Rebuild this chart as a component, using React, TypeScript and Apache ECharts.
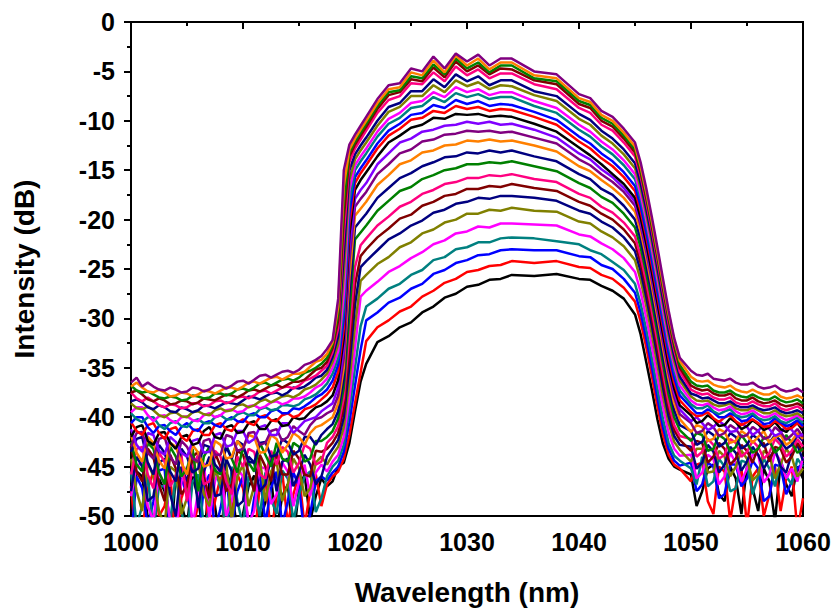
import React, { useEffect, useRef } from "react";
import * as echarts from "echarts";

// Wavelength grid (nm) shared by all spectra
const wavelengths = [
  1000, 1000.5, 1001, 1001.5, 1002, 1002.5, 1003, 1003.5, 1004, 1004.5, 1005, 1005.5, 1006, 1006.5, 1007, 1007.5, 1008, 1008.5,
  1009, 1009.5, 1010, 1010.5, 1011, 1011.5, 1012, 1012.5, 1013, 1013.5, 1014, 1014.5, 1015, 1015.5, 1016, 1016.5, 1017, 1017.5,
  1018, 1018.5, 1019, 1019.5, 1020, 1020.5, 1021,
  1022, 1023, 1024, 1025, 1026, 1027, 1028, 1029, 1030, 1031, 1032, 1033, 1034, 1036, 1038, 1040, 1041, 1042, 1043, 1044,
  1045, 1045.5, 1046, 1046.5, 1047, 1047.5, 1048, 1048.5, 1049,
  1050, 1050.5, 1051, 1051.5, 1052, 1052.5, 1053, 1053.5, 1054, 1054.5, 1055, 1055.5, 1056, 1056.5, 1057, 1057.5, 1058, 1058.5,
  1059, 1059.5, 1060,
];

// Spectra (dB), from the lowest to the highest
const curve01 = [-49.5, -45.5, -46.0, -50.2, -52.0, -46.2, -47.5, -53.5, -45.8, -48.8, -51.0, -46.0, -48.2, -52.5, -46.5, -49.0, -53.0, -45.6,
  -47.0, -51.8, -49.8, -47.0, -45.9, -50.5, -48.6, -46.0, -51.5, -48.0, -46.8, -52.5, -47.2, -45.8, -50.5, -48.0, -46.2, -47.0,
  -46.5, -45.0, -44.6, -42.6, -39.4, -36.4, -34.6,
  -32.4, -31.8, -30.9, -30.4, -29.4, -28.8, -27.9, -27.5, -26.8, -26.6, -26.1, -26.0, -25.6, -25.7, -25.5, -26.0, -26.1, -26.7, -27.2, -28.0,
  -29.6, -31.6, -34.4, -37.2, -40.2, -42.7, -44.2, -45.0, -45.3,
  -45.8, -49.0, -47.5, -45.2, -44.8, -47.8, -48.5, -45.0, -46.2, -49.8, -45.0, -47.2, -49.5, -45.2, -46.5, -50.5, -44.6, -46.8, -48.0, -45.0, -46.2];
const curve02 = [-47.0, -53.0, -51.5, -47.2, -45.5, -50.0, -49.0, -45.8, -53.0, -48.2, -46.5, -51.5, -48.8, -45.6, -52.0, -48.5, -46.0, -52.8,
  -49.5, -45.8, -47.2, -50.5, -52.5, -47.0, -46.2, -51.8, -48.0, -45.5, -50.8, -47.8, -45.8, -51.0, -47.5, -45.8, -49.0, -46.8,
  -46.0, -45.5, -44.2, -41.8, -38.6, -35.5, -32.3,
  -30.9, -30.2, -29.3, -28.8, -27.8, -27.2, -26.4, -26.0, -25.3, -25.1, -24.7, -24.6, -24.2, -24.4, -24.2, -24.8, -24.9, -25.6, -26.0, -26.9,
  -28.3, -30.3, -32.9, -35.8, -38.9, -41.8, -43.8, -44.8, -45.2,
  -46.5, -44.8, -44.6, -48.5, -49.8, -45.0, -45.5, -50.5, -47.0, -45.2, -51.0, -46.0, -45.2, -50.0, -47.8, -45.0, -49.5, -46.2, -45.0, -51.5, -48.2];
const curve03 = [-52.5, -46.0, -47.2, -51.0, -48.5, -45.4, -45.2, -52.0, -50.5, -46.2, -47.8, -50.5, -53.0, -47.0, -45.8, -51.5, -49.2, -46.0,
  -51.0, -47.5, -46.0, -52.0, -48.2, -45.6, -50.8, -47.2, -45.5, -51.0, -48.5, -45.6, -47.0, -52.0, -49.8, -46.5, -46.0, -46.4,
  -45.6, -45.0, -43.5, -40.5, -36.8, -33.2, -30.2,
  -29.4, -28.4, -27.9, -27.0, -26.5, -25.5, -25.1, -24.4, -24.1, -23.6, -23.5, -23.1, -23.0, -23.1, -23.1, -23.7, -23.8, -24.6, -25.0, -26.0,
  -27.4, -29.4, -32.0, -34.9, -38.0, -41.0, -43.2, -44.4, -44.9,
  -44.6, -47.5, -46.8, -44.6, -45.0, -48.2, -47.8, -44.8, -44.8, -47.0, -46.2, -44.4, -45.2, -48.5, -48.0, -44.8, -45.0, -47.8, -46.5, -45.2, -44.6];
const curve04 = [-45.5, -51.0, -49.0, -46.0, -51.5, -47.0, -47.0, -50.5, -46.0, -49.5, -52.0, -46.5, -45.8, -51.0, -49.5, -45.2, -47.2, -52.0,
  -45.0, -48.5, -51.0, -46.0, -47.0, -50.0, -45.6, -48.2, -49.8, -45.4, -46.2, -50.5, -47.8, -46.0, -45.5, -49.6, -48.2, -46.0,
  -45.0, -44.4, -42.8, -39.2, -35.0, -30.8, -28.8,
  -28.0, -27.0, -26.5, -25.6, -25.1, -24.1, -23.8, -23.0, -22.8, -22.3, -22.3, -21.9, -21.8, -21.9, -22.2, -22.5, -23.1, -23.5, -24.3, -25.1,
  -26.5, -28.5, -31.1, -34.0, -37.1, -40.2, -42.6, -43.9, -44.4,
  -45.2, -46.8, -44.0, -47.0, -46.5, -44.2, -45.0, -47.5, -47.2, -44.4, -44.6, -47.8, -46.0, -44.2, -45.2, -47.0, -44.4, -46.0, -46.8, -44.2, -45.0];
const curve05 = [-48.0, -45.0, -44.5, -49.0, -50.5, -45.6, -46.8, -50.5, -52.0, -46.5, -45.0, -51.0, -47.5, -44.6, -50.2, -46.5, -44.8, -50.0,
  -48.5, -45.2, -46.0, -50.8, -49.5, -45.0, -45.2, -48.8, -47.8, -44.6, -45.5, -49.0, -46.5, -44.8, -48.0, -45.6, -44.8, -45.5,
  -44.5, -43.8, -42.0, -38.0, -33.0, -27.8, -27.2,
  -26.3, -25.3, -24.7, -23.9, -23.3, -22.5, -22.1, -21.4, -21.2, -20.7, -20.8, -20.4, -20.4, -20.5, -20.6, -21.5, -21.7, -22.4, -23.0, -23.9,
  -25.3, -27.3, -29.9, -32.8, -35.9, -39.0, -41.6, -43.2, -43.9,
  -43.8, -46.2, -45.6, -43.8, -44.2, -46.8, -46.0, -43.6, -44.6, -46.5, -45.2, -43.8, -43.8, -46.6, -45.8, -43.6, -44.4, -46.2, -45.2, -46.5, -44.0];
const curve06 = [-44.2, -47.5, -49.5, -44.6, -46.0, -49.5, -51.0, -45.0, -45.5, -49.8, -48.2, -44.4, -44.6, -47.8, -49.0, -45.2, -46.8, -44.6,
  -50.5, -46.0, -44.8, -49.0, -47.0, -44.2, -48.5, -45.5, -44.5, -48.5, -46.8, -44.2, -45.2, -48.0, -47.2, -44.6, -44.0, -44.8,
  -43.8, -43.0, -41.0, -36.4, -30.8, -26.2, -25.6,
  -24.5, -23.8, -22.8, -22.3, -21.4, -21.0, -20.3, -20.0, -19.4, -19.4, -19.0, -19.1, -18.8, -19.1, -19.2, -20.2, -20.4, -21.2, -21.8, -22.7,
  -24.1, -26.1, -28.7, -31.6, -34.7, -37.9, -40.6, -42.5, -43.3,
  -44.5, -43.2, -43.2, -45.6, -45.5, -43.4, -44.0, -46.0, -45.0, -43.4, -44.2, -46.4, -45.8, -43.4, -43.8, -46.2, -44.8, -43.2, -44.0, -46.0, -45.2];
const curve07 = [-47.5, -44.0, -45.0, -48.5, -48.0, -44.6, -44.2, -47.8, -50.0, -45.0, -46.5, -43.8, -49.2, -45.5, -44.0, -48.0, -47.8, -44.2,
  -45.5, -49.0, -48.5, -44.0, -44.6, -47.5, -46.8, -44.0, -47.5, -44.5, -44.2, -47.0, -45.6, -43.8, -44.8, -46.8, -46.0, -44.0,
  -43.2, -42.3, -40.0, -34.8, -28.6, -24.8, -24.2,
  -23.1, -22.0, -21.4, -20.6, -20.1, -19.3, -19.0, -18.4, -18.2, -17.8, -17.9, -17.6, -17.6, -17.8, -18.1, -19.1, -19.4, -20.2, -20.8, -21.8,
  -23.2, -25.2, -27.8, -30.7, -33.8, -37.0, -39.9, -41.9, -42.8,
  -43.0, -45.2, -44.6, -42.8, -43.5, -45.6, -44.8, -43.0, -43.6, -45.4, -44.5, -43.0, -43.8, -45.2, -44.2, -43.2, -45.0, -45.6, -43.6, -42.8, -44.4];
const curve08 = [-43.0, -45.5, -46.5, -43.2, -44.0, -46.8, -48.5, -43.8, -45.2, -47.8, -47.0, -44.0, -43.5, -46.0, -48.2, -43.6, -45.0, -47.5,
  -46.8, -43.4, -43.8, -45.6, -47.5, -43.8, -45.0, -46.5, -43.6, -45.8, -45.8, -43.4, -44.2, -45.8, -46.0, -43.4, -43.5, -43.2,
  -42.6, -41.6, -39.0, -33.2, -26.6, -23.7, -23.0,
  -21.8, -20.9, -19.9, -19.5, -18.6, -18.2, -17.6, -17.4, -16.9, -16.9, -16.6, -16.7, -16.4, -16.8, -17.1, -18.2, -18.6, -19.4, -20.0, -21.0,
  -22.4, -24.4, -27.0, -29.9, -33.0, -36.2, -39.1, -41.3, -42.3,
  -43.4, -42.4, -42.6, -44.6, -44.0, -42.6, -43.2, -44.8, -44.2, -42.8, -43.4, -44.6, -43.0, -42.6, -44.5, -43.0, -43.2, -44.6, -44.0, -42.6, -43.5];
const curve09 = [-45.8, -43.2, -43.0, -45.8, -47.2, -43.6, -44.5, -47.0, -46.0, -43.8, -48.5, -45.0, -43.8, -46.8, -46.5, -43.4, -44.0, -46.5,
  -47.8, -44.0, -45.0, -43.2, -43.5, -45.8, -46.2, -43.4, -44.8, -43.0, -43.5, -45.6, -44.6, -42.8, -43.2, -44.8, -44.5, -42.6,
  -42.0, -40.9, -38.0, -31.5, -24.8, -22.6, -21.9,
  -20.6, -19.7, -18.7, -18.2, -17.4, -17.0, -16.4, -16.2, -15.8, -15.8, -15.5, -15.6, -15.4, -15.9, -16.2, -17.4, -17.8, -18.7, -19.3, -20.3,
  -21.7, -23.7, -26.3, -29.2, -32.3, -35.5, -38.5, -40.8, -41.9,
  -42.2, -44.0, -43.5, -42.2, -42.8, -44.2, -43.8, -42.2, -42.6, -44.0, -43.5, -42.4, -43.0, -44.2, -43.6, -42.2, -42.8, -44.0, -43.4, -42.2, -43.0];
const curve10 = [-42.5, -44.8, -45.5, -42.6, -43.2, -45.6, -46.8, -43.0, -44.0, -46.0, -45.2, -43.2, -47.5, -44.0, -43.0, -45.4, -45.8, -42.8,
  -44.2, -45.6, -43.0, -44.6, -45.5, -42.6, -43.8, -45.0, -42.6, -44.2, -44.5, -42.6, -43.0, -44.5, -44.2, -42.4, -42.4, -42.0,
  -41.4, -40.1, -37.0, -29.5, -22.0, -21.3, -20.6,
  -19.1, -18.1, -17.1, -16.7, -15.9, -15.5, -15.0, -14.8, -14.4, -14.4, -14.2, -14.3, -14.1, -14.6, -15.1, -16.3, -16.8, -17.7, -18.3, -19.4,
  -20.8, -22.8, -25.4, -28.3, -31.4, -34.6, -37.7, -40.0, -41.3,
  -42.4, -41.6, -41.8, -43.4, -43.2, -41.8, -42.2, -43.5, -43.0, -41.8, -42.6, -43.6, -43.2, -42.0, -42.4, -43.6, -43.0, -41.8, -42.6, -43.6, -43.2];
const curve11 = [-43.5, -42.2, -42.0, -44.6, -45.8, -42.8, -43.6, -45.5, -46.5, -43.2, -44.0, -45.6, -45.2, -42.8, -43.0, -44.8, -45.5, -43.0,
  -44.2, -42.4, -42.8, -44.5, -44.6, -42.6, -42.5, -44.0, -43.8, -42.2, -42.6, -43.8, -43.4, -42.0, -42.0, -42.8, -41.8, -41.2,
  -40.7, -39.4, -36.0, -27.5, -20.8, -20.1, -19.4,
  -17.8, -16.8, -15.8, -15.3, -14.6, -14.2, -13.7, -13.6, -13.2, -13.3, -13.0, -13.2, -13.0, -13.6, -14.1, -15.4, -15.9, -16.9, -17.5, -18.6,
  -20.0, -22.0, -24.6, -27.5, -30.6, -33.8, -36.9, -39.3, -40.8,
  -41.4, -42.8, -42.5, -41.4, -41.8, -43.0, -42.6, -41.6, -42.0, -43.2, -42.8, -41.8, -42.2, -43.0, -42.6, -41.8, -42.4, -43.2, -42.8, -41.8, -42.4];
const curve12 = [-41.8, -43.6, -44.5, -42.0, -42.6, -44.4, -45.2, -42.6, -43.0, -44.6, -45.8, -42.8, -43.6, -45.0, -44.8, -42.4, -42.8, -44.2,
  -44.0, -42.4, -43.2, -41.8, -42.0, -43.6, -43.5, -41.8, -42.2, -43.6, -42.8, -41.6, -42.0, -42.8, -41.6, -41.0, -40.8, -40.4,
  -40.0, -38.6, -35.0, -25.8, -19.6, -18.9, -18.2,
  -16.5, -15.5, -14.4, -14.0, -13.2, -13.0, -12.5, -12.4, -12.0, -12.1, -11.9, -12.1, -12.0, -12.5, -13.1, -14.6, -15.1, -16.0, -16.8, -17.8,
  -19.2, -21.2, -23.8, -26.7, -29.8, -33.0, -36.1, -38.6, -40.2,
  -41.5, -40.8, -41.0, -42.4, -42.2, -41.2, -41.5, -42.6, -42.4, -41.4, -41.8, -42.6, -42.0, -41.4, -42.6, -42.0, -41.8, -42.8, -42.4, -41.6, -42.2];
const curve13 = [-43.0, -41.6, -41.5, -43.6, -44.2, -42.2, -42.0, -44.0, -44.8, -42.4, -43.0, -44.2, -44.5, -42.4, -42.2, -43.8, -43.8, -41.8,
  -42.0, -43.4, -43.2, -41.6, -41.5, -42.8, -42.6, -41.4, -41.2, -42.4, -42.0, -40.9, -41.4, -41.8, -40.8, -40.2, -40.0, -39.6,
  -39.3, -37.8, -34.0, -24.2, -18.7, -17.9, -17.2,
  -15.4, -14.4, -13.3, -12.9, -12.1, -11.9, -11.4, -11.3, -11.0, -11.1, -11.0, -11.2, -11.1, -11.7, -12.3, -13.9, -14.5, -15.4, -16.2, -17.2,
  -18.6, -20.6, -23.2, -26.1, -29.2, -32.4, -35.5, -38.0, -39.7,
  -40.6, -41.6, -41.4, -40.6, -41.0, -41.9, -41.6, -40.8, -41.2, -42.0, -41.8, -41.0, -41.4, -42.2, -42.0, -41.0, -41.5, -42.3, -41.8, -41.2, -42.0];
const curve14 = [-41.2, -42.8, -43.5, -41.6, -41.8, -43.4, -43.8, -42.0, -42.5, -43.6, -44.0, -42.4, -42.2, -43.6, -43.5, -41.8, -41.6, -43.0,
  -42.8, -41.4, -41.4, -42.6, -42.2, -41.0, -40.8, -41.8, -41.8, -40.6, -40.6, -41.6, -41.0, -40.4, -40.2, -40.0, -39.4, -39.0,
  -38.6, -37.0, -33.0, -22.8, -17.9, -17.0, -16.3,
  -14.4, -13.3, -12.2, -11.8, -11.1, -10.9, -10.5, -10.4, -10.1, -10.3, -10.1, -10.4, -10.3, -10.9, -11.7, -13.3, -13.9, -14.9, -15.7, -16.8,
  -18.2, -20.2, -22.8, -25.7, -28.8, -32.0, -35.1, -37.5, -39.2,
  -40.4, -40.0, -40.6, -41.3, -41.0, -40.4, -40.8, -41.5, -41.4, -40.6, -41.0, -41.8, -41.4, -40.7, -41.2, -41.9, -41.6, -40.8, -41.3, -42.0, -41.7];
const curve15 = [-42.0, -41.0, -40.8, -42.4, -42.8, -41.6, -41.5, -42.6, -43.2, -42.0, -41.8, -42.8, -42.6, -41.4, -41.0, -42.0, -42.2, -41.0,
  -40.8, -41.6, -41.5, -40.6, -40.4, -41.2, -41.2, -40.4, -40.2, -40.9, -40.8, -40.0, -40.2, -40.1, -39.5, -39.0, -38.8, -38.4,
  -37.8, -36.2, -32.0, -21.5, -17.0, -16.0, -15.2,
  -13.6, -12.2, -11.5, -10.7, -10.4, -9.7, -9.8, -9.3, -9.4, -9.3, -9.6, -9.5, -9.6, -10.3, -11.1, -12.7, -13.5, -14.4, -15.4, -16.4,
  -17.8, -19.8, -22.4, -25.3, -28.4, -31.6, -34.7, -37.1, -38.8,
  -39.8, -40.6, -40.4, -39.8, -40.2, -40.9, -40.8, -40.1, -40.5, -41.2, -40.9, -40.3, -40.7, -41.3, -41.0, -40.5, -41.2, -41.5, -40.9, -40.6, -41.4];
const curve16 = [-40.5, -41.4, -41.8, -40.8, -40.6, -41.6, -42.2, -41.2, -41.0, -42.0, -42.4, -41.4, -41.2, -41.8, -41.8, -40.8, -40.6, -41.2,
  -41.4, -40.6, -40.2, -40.6, -40.8, -40.0, -39.8, -40.3, -40.4, -39.8, -39.6, -40.0, -39.8, -39.2, -39.0, -38.7, -38.2, -37.7,
  -37.0, -35.4, -31.0, -20.4, -16.3, -15.3, -14.5,
  -12.8, -11.5, -10.8, -9.9, -9.7, -9.0, -9.2, -8.5, -8.8, -8.6, -9.0, -8.8, -8.9, -9.6, -10.4, -12.1, -12.8, -13.8, -14.6, -15.7,
  -17.1, -19.1, -21.7, -24.6, -27.7, -30.9, -34.0, -36.5, -38.3,
  -39.5, -39.9, -39.8, -39.5, -40.1, -40.5, -40.0, -39.8, -40.4, -40.8, -40.5, -40.2, -40.6, -41.0, -40.9, -40.4, -40.7, -41.2, -41.1, -40.6, -41.0];
const curve17 = [-40.6, -40.0, -40.0, -41.0, -41.6, -40.9, -40.8, -41.4, -41.8, -41.0, -40.6, -41.2, -41.4, -40.6, -40.4, -40.8, -41.0, -40.3,
  -40.0, -40.4, -40.5, -39.8, -39.6, -40.0, -40.0, -39.4, -39.2, -39.6, -39.6, -39.1, -39.2, -38.9, -38.5, -38.0, -37.7, -37.2,
  -36.3, -34.7, -30.0, -19.4, -15.7, -14.8, -14.0,
  -12.3, -11.0, -10.3, -9.4, -9.2, -8.4, -8.7, -7.9, -8.3, -8.0, -8.5, -8.3, -8.4, -9.1, -9.9, -11.6, -12.3, -13.3, -14.1, -15.2,
  -16.6, -18.6, -21.2, -24.1, -27.2, -30.4, -33.5, -36.0, -37.8,
  -39.0, -39.6, -39.6, -39.2, -39.5, -40.0, -40.0, -39.6, -39.9, -40.4, -40.3, -39.8, -40.2, -40.7, -40.6, -40.1, -40.5, -40.9, -40.7, -40.3, -40.9];
const curve18 = [-39.6, -40.2, -40.5, -40.0, -40.0, -40.8, -41.2, -40.6, -40.4, -40.9, -41.0, -40.4, -40.2, -40.6, -40.6, -40.0, -39.8, -40.2,
  -40.2, -39.7, -39.5, -39.8, -39.8, -39.2, -39.0, -39.3, -39.2, -38.8, -38.8, -38.9, -38.7, -38.2, -38.0, -37.7, -37.2, -36.6,
  -35.6, -34.0, -28.8, -18.2, -15.0, -14.1, -13.3,
  -11.6, -10.3, -9.7, -8.7, -8.5, -7.6, -8.1, -7.2, -7.6, -7.3, -7.8, -7.6, -7.6, -8.5, -9.2, -10.9, -11.6, -12.6, -13.4, -14.5,
  -15.9, -17.9, -20.5, -23.4, -26.5, -29.7, -32.8, -35.3, -37.3,
  -38.7, -39.1, -39.1, -38.8, -39.4, -39.7, -39.4, -39.2, -39.8, -40.0, -39.9, -39.6, -40.1, -40.3, -40.2, -39.9, -40.4, -40.6, -40.3, -40.0, -40.6];
const curve19 = [-39.5, -39.0, -39.0, -39.8, -40.4, -39.9, -39.8, -40.3, -40.6, -40.0, -39.9, -40.3, -40.4, -39.8, -39.6, -40.0, -39.8, -39.3,
  -39.2, -39.5, -39.4, -38.9, -38.8, -39.1, -38.9, -38.5, -38.4, -38.7, -38.5, -38.1, -38.1, -37.9, -37.5, -37.0, -36.7, -36.1,
  -35.0, -33.3, -27.5, -17.0, -14.5, -13.6, -12.8,
  -11.1, -9.8, -9.2, -8.2, -8.0, -7.1, -7.6, -6.6, -7.1, -6.8, -7.4, -7.1, -7.1, -8.0, -8.7, -10.4, -11.1, -12.1, -12.9, -14.0,
  -15.4, -17.4, -20.0, -22.9, -26.0, -29.2, -32.3, -34.8, -36.8,
  -38.3, -38.7, -38.8, -38.6, -39.0, -39.3, -39.2, -38.9, -39.4, -39.7, -39.6, -39.3, -39.7, -40.0, -39.9, -39.6, -40.0, -40.3, -40.1, -39.8, -40.3];
const curve20 = [-38.6, -39.1, -39.2, -38.9, -39.3, -39.8, -40.0, -39.6, -39.5, -39.9, -40.0, -39.5, -39.4, -39.7, -39.8, -39.3, -39.1, -39.4,
  -39.3, -38.8, -38.7, -39.0, -38.8, -38.4, -38.2, -38.5, -38.2, -37.9, -37.8, -38.0, -37.7, -37.2, -37.0, -36.7, -36.2, -35.6,
  -34.4, -32.6, -25.5, -16.0, -13.9, -13.0, -12.2,
  -10.5, -9.1, -8.6, -7.5, -7.5, -6.4, -7.1, -5.9, -6.5, -6.1, -6.8, -6.4, -6.5, -7.4, -8.0, -9.8, -10.4, -11.5, -12.3, -13.4,
  -14.8, -16.8, -19.4, -22.3, -25.4, -28.6, -31.7, -34.3, -36.3,
  -37.9, -38.3, -38.4, -38.3, -38.7, -38.9, -38.8, -38.6, -39.1, -39.3, -39.3, -39.0, -39.3, -39.6, -39.6, -39.3, -39.7, -39.9, -39.8, -39.6, -40.0];
const curve21 = [-38.4, -38.2, -38.5, -39.0, -39.2, -38.8, -39.0, -39.4, -39.5, -39.0, -39.2, -39.5, -39.3, -38.8, -38.9, -39.1, -38.8, -38.5,
  -38.6, -38.7, -38.3, -37.9, -38.0, -38.2, -37.9, -37.6, -37.5, -37.8, -37.5, -37.0, -37.1, -36.9, -36.5, -36.0, -35.8, -35.2,
  -33.9, -31.8, -23.5, -15.0, -13.4, -12.5, -11.7,
  -10.0, -8.6, -8.2, -7.0, -7.0, -5.8, -6.6, -5.3, -6.0, -5.5, -6.4, -5.9, -5.9, -7.0, -7.5, -9.3, -9.9, -11.0, -11.8, -12.9,
  -14.3, -16.3, -18.9, -21.8, -24.9, -28.1, -31.2, -33.8, -35.9,
  -37.6, -37.8, -38.1, -38.0, -38.3, -38.6, -38.6, -38.4, -38.8, -39.0, -39.0, -38.8, -39.1, -39.3, -39.2, -39.0, -39.4, -39.6, -39.5, -39.3, -39.6];
const curve22 = [-37.5, -38.1, -38.4, -38.0, -38.4, -38.8, -39.0, -38.7, -38.8, -39.1, -39.0, -38.6, -38.6, -38.9, -38.8, -38.4, -38.3, -38.6,
  -38.4, -38.0, -37.9, -38.1, -37.8, -37.4, -37.3, -37.6, -37.3, -37.0, -36.9, -37.1, -36.8, -36.3, -36.1, -35.8, -35.3, -34.8,
  -33.4, -31.0, -21.5, -14.2, -12.8, -11.9, -11.0,
  -9.2, -7.9, -7.5, -6.2, -6.3, -5.1, -6.0, -4.5, -5.4, -4.8, -5.7, -5.2, -5.2, -6.3, -6.8, -8.7, -9.2, -10.4, -11.0, -12.2,
  -13.6, -15.6, -18.2, -21.1, -24.2, -27.4, -30.5, -33.2, -35.4,
  -37.2, -37.5, -37.7, -37.6, -38.0, -38.2, -38.2, -38.0, -38.5, -38.7, -38.7, -38.4, -38.7, -38.9, -38.9, -38.6, -39.1, -39.3, -39.1, -38.9, -39.3];
const curve23 = [-37.5, -37.3, -37.7, -38.2, -38.4, -38.1, -38.3, -38.7, -38.6, -38.3, -38.4, -38.7, -38.5, -38.1, -38.2, -38.3, -38.0, -37.7,
  -37.8, -38.0, -37.7, -37.3, -37.2, -37.4, -37.1, -36.8, -36.7, -37.0, -36.7, -36.4, -36.4, -36.2, -35.7, -35.2, -35.0, -34.4,
  -33.0, -30.2, -19.8, -13.6, -12.4, -11.5, -10.6,
  -8.8, -7.4, -7.1, -5.8, -6.0, -4.6, -5.6, -4.0, -5.0, -4.4, -5.3, -4.7, -4.8, -5.9, -6.3, -8.3, -8.7, -10.0, -10.6, -11.8,
  -13.2, -15.2, -17.8, -20.7, -23.8, -27.0, -30.1, -32.8, -35.0,
  -36.8, -37.1, -37.3, -37.2, -37.6, -37.8, -37.8, -37.6, -38.1, -38.3, -38.3, -38.0, -38.4, -38.6, -38.5, -38.3, -38.7, -38.9, -38.8, -38.6, -38.9];
const curve24 = [-36.8, -37.3, -37.5, -37.4, -37.7, -38.0, -38.1, -37.9, -38.0, -38.3, -38.2, -37.8, -37.9, -38.1, -38.0, -37.6, -37.6, -37.8,
  -37.6, -37.2, -37.1, -37.3, -37.0, -36.6, -36.5, -36.8, -36.5, -36.2, -36.1, -36.3, -36.0, -35.5, -35.3, -35.0, -34.6, -34.0,
  -32.7, -29.5, -18.2, -13.2, -12.1, -11.2, -10.3,
  -8.5, -7.1, -6.9, -5.5, -5.7, -4.3, -5.3, -3.7, -4.7, -4.1, -5.1, -4.4, -4.4, -5.7, -6.0, -8.0, -8.4, -9.7, -10.3, -11.5,
  -12.9, -14.9, -17.5, -20.4, -23.5, -26.7, -29.8, -32.5, -34.7,
  -36.4, -36.8, -36.9, -36.8, -37.3, -37.5, -37.5, -37.3, -37.7, -37.9, -38.0, -37.7, -38.0, -38.2, -38.2, -37.9, -38.3, -38.5, -38.4, -38.2, -38.6];
const curve25 = [-36.9, -36.5, -37.0, -37.4, -37.5, -37.2, -37.5, -37.9, -37.8, -37.5, -37.6, -37.9, -37.7, -37.3, -37.4, -37.6, -37.3, -37.0,
  -37.0, -37.2, -36.9, -36.5, -36.4, -36.6, -36.3, -36.0, -35.9, -36.2, -35.9, -35.6, -35.6, -35.4, -34.9, -34.4, -34.2, -33.6,
  -32.4, -28.8, -16.6, -12.9, -11.8, -10.9, -10.0,
  -8.2, -6.8, -6.6, -5.1, -5.4, -3.9, -5.1, -3.4, -4.4, -3.7, -4.8, -4.1, -4.1, -5.4, -5.7, -7.7, -8.1, -9.4, -10.0, -11.2,
  -12.6, -14.6, -17.2, -20.1, -23.2, -26.4, -29.5, -32.2, -34.3,
  -35.9, -36.3, -36.4, -36.3, -36.7, -36.9, -37.0, -36.8, -37.2, -37.4, -37.5, -37.2, -37.5, -37.7, -37.7, -37.4, -37.9, -38.1, -38.0, -37.8, -38.1];
const curve26 = [-36.5, -36.0, -36.9, -36.5, -36.9, -37.2, -37.3, -37.0, -37.2, -37.5, -37.4, -37.0, -37.1, -37.4, -37.2, -36.8, -36.8, -37.1,
  -36.8, -36.4, -36.3, -36.6, -36.2, -35.8, -35.7, -36.0, -35.7, -35.4, -35.3, -35.5, -35.2, -34.7, -34.5, -34.2, -33.8, -33.1,
  -32.2, -28.0, -15.0, -12.4, -11.4, -10.5, -9.6,
  -7.8, -6.4, -6.2, -4.7, -5.0, -3.5, -4.7, -3.2, -4.0, -3.3, -4.4, -3.7, -3.7, -5.0, -5.3, -7.3, -7.7, -9.0, -9.6, -10.8,
  -12.2, -14.2, -16.8, -19.7, -22.8, -26.0, -29.2, -32.0, -34.0,
  -35.3, -35.7, -35.8, -35.6, -36.1, -36.2, -36.3, -36.1, -36.5, -36.7, -36.7, -36.5, -36.9, -37.1, -37.0, -36.8, -37.2, -37.4, -37.3, -37.1, -37.5];

const curves = [
  curve01, curve02, curve03, curve04, curve05, curve06, curve07, curve08, curve09, curve10, curve11, curve12, curve13,
  curve14, curve15, curve16, curve17, curve18, curve19, curve20, curve21, curve22, curve23, curve24, curve25, curve26,
];

const curveColors = [
  "#000000", "#ff0000", "#0000ff", "#008080", "#ff00ff", "#808000", "#000080", "#800000", "#ff0080", "#008000",
  "#000080", "#ff8000", "#800080", "#8000ff", "#000000", "#ff0000", "#0000ff", "#008080", "#ff00ff", "#808000",
  "#000080", "#ff0080", "#800000", "#008000", "#ff8000", "#800080",
];

const xTitle = "Wavelength (nm)";
const yTitle = "Intensity (dB)";
const FONT = "'Liberation Sans', Arial, Helvetica, sans-serif";

export default function App() {
  const ref = useRef<HTMLDivElement>(null);

  useEffect(() => {
    if (!ref.current) return;
    const chart = echarts.init(ref.current, undefined, { renderer: "svg" });
    const axisLine = { show: true, lineStyle: { color: "#000", width: 2 } };
    const tick = { show: true, length: 7, lineStyle: { color: "#000", width: 2 } };
    const minor = { show: true, splitNumber: 2, length: 4, lineStyle: { color: "#000", width: 2 } };
    const labelStyle = { color: "#000", fontSize: 25, fontWeight: "bold", fontFamily: FONT };
    const titleStyle = { color: "#000", fontSize: 28, fontWeight: "bold", fontFamily: FONT };
    const option = {
      animation: false,
      backgroundColor: "#fff",
      textStyle: { fontFamily: FONT },
      grid: {
        left: 131, right: 34, top: 22, bottom: 94,
        show: true, borderColor: "#000", borderWidth: 2,
      },
      xAxis: {
        type: "value", min: 1000, max: 1060, interval: 10,
        axisLine, axisTick: tick, minorTick: minor,
        splitLine: { show: false }, minorSplitLine: { show: false },
        axisLabel: { ...labelStyle, margin: 13, formatter: (v: number) => String(v) },
        name: xTitle, nameLocation: "middle", nameGap: 62,
        nameTextStyle: titleStyle,
      },
      yAxis: {
        type: "value", min: -50, max: 0, interval: 5,
        axisLine, axisTick: tick, minorTick: minor,
        splitLine: { show: false }, minorSplitLine: { show: false },
        axisLabel: { ...labelStyle, margin: 16, formatter: (v: number) => String(v) },
        name: yTitle, nameLocation: "middle", nameGap: 93, nameRotate: 90,
        nameTextStyle: titleStyle,
      },
      series: curves.map((vals, i) => ({
        type: "line",
        name: "S" + (i + 1),
        data: wavelengths.map((w, j) => [w, vals[j]]).filter((p) => p[1] !== undefined),
        showSymbol: false,
        symbol: "none",
        clip: true,
        silent: true,
        lineStyle: { color: curveColors[i], width: 2.5 },
        itemStyle: { color: curveColors[i] },
      })),
    };
    chart.setOption(option as any);
    return () => chart.dispose();
  }, []);

  return (
    <div
      ref={ref}
      style={{ position: "absolute", left: 0, top: 0, width: 837, height: 611, background: "#fff" }}
    />
  );
}
